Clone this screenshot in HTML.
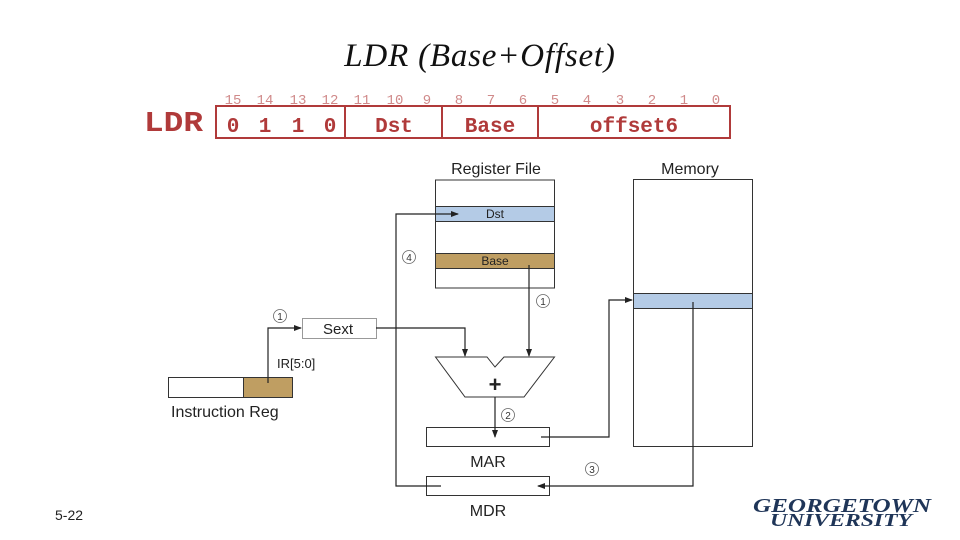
<!DOCTYPE html>
<html><head><meta charset="utf-8"><style>
html,body{margin:0;padding:0;background:#fff}
svg{display:block}
</style></head><body>
<svg width="960" height="540" viewBox="0 0 960 540" xmlns="http://www.w3.org/2000/svg">
<defs>
<marker id="ah" markerWidth="8" markerHeight="8" refX="7" refY="4" orient="auto" markerUnits="userSpaceOnUse">
<path d="M0,1 L8,4 L0,7 Z" fill="#222"/></marker>
</defs>
<text x="480" y="66" text-anchor="middle" font-family="Liberation Serif, serif" font-style="italic" font-size="33" letter-spacing="0.8" fill="#111">LDR (Base+Offset)</text>

<g font-family="Liberation Mono, monospace" fill="#b03a3a">
<text x="144" y="131" font-size="29" font-weight="bold" textLength="59" lengthAdjust="spacingAndGlyphs">LDR</text>
<g font-size="14" fill="#d08a8a" text-anchor="middle" font-weight="normal">
<text x="233" y="104">15</text><text x="265" y="104">14</text><text x="298" y="104">13</text><text x="330" y="104">12</text>
<text x="362" y="104">11</text><text x="395" y="104">10</text><text x="427" y="104">9</text><text x="459" y="104">8</text>
<text x="491" y="104">7</text><text x="523" y="104">6</text><text x="555" y="104">5</text><text x="587" y="104">4</text>
<text x="620" y="104">3</text><text x="652" y="104">2</text><text x="684" y="104">1</text><text x="716" y="104">0</text>
</g>
<g font-size="21" font-weight="bold" text-anchor="middle">
<text x="233" y="132">0</text><text x="265" y="132">1</text><text x="298" y="132">1</text><text x="330" y="132">0</text>
<text x="394" y="132">Dst</text><text x="490" y="132">Base</text><text x="634" y="132">offset6</text>
</g>
</g>
<rect x="216" y="106" width="514" height="32" fill="none" stroke="#b03a3a" stroke-width="2"/>
<line x1="345" y1="106" x2="345" y2="138" stroke="#b03a3a" stroke-width="2"/>
<line x1="442" y1="106" x2="442" y2="138" stroke="#b03a3a" stroke-width="2"/>
<line x1="538" y1="106" x2="538" y2="138" stroke="#b03a3a" stroke-width="2"/>

<g font-family="Liberation Sans, sans-serif" fill="#222">
<text x="496" y="174" text-anchor="middle" font-size="16">Register File</text>
<rect x="435.5" y="180" width="119" height="108" fill="#fff" stroke="#333"/>
<rect x="435.5" y="206.5" width="119" height="15" fill="#b4cbe6" stroke="#333"/>
<text x="495" y="218" text-anchor="middle" font-size="12">Dst</text>
<rect x="435.5" y="253.5" width="119" height="15" fill="#bf9e62" stroke="#333"/>
<text x="495" y="265" text-anchor="middle" font-size="12">Base</text>

<text x="690" y="174" text-anchor="middle" font-size="16">Memory</text>
<rect x="633.5" y="179.5" width="119" height="267" fill="#fff" stroke="#333"/>
<rect x="633.5" y="293.5" width="119" height="15" fill="#b4cbe6" stroke="#333"/>

<rect x="302.5" y="318.5" width="74" height="20" fill="#fff" stroke="#999"/>
<text x="338" y="334" text-anchor="middle" font-size="15">Sext</text>

<rect x="168.5" y="377.5" width="75" height="20" fill="#fff" stroke="#333"/>
<rect x="243.5" y="377.5" width="49" height="20" fill="#bf9e62" stroke="#333"/>
<text x="171" y="417" font-size="16">Instruction Reg</text>
<text x="277" y="368" font-size="13">IR[5:0]</text>

<path d="M435.5,357 L487,357 L495,367 L504,357 L554.5,357 L524,397 L465,397 Z" fill="#fff" stroke="#333"/>
<text x="495" y="392" text-anchor="middle" font-size="22" font-weight="bold">+</text>

<rect x="426.5" y="427.5" width="123" height="19" fill="#fff" stroke="#333"/>
<text x="488" y="467" text-anchor="middle" font-size="16">MAR</text>
<rect x="426.5" y="476.5" width="123" height="19" fill="#fff" stroke="#333"/>
<text x="488" y="516" text-anchor="middle" font-size="16">MDR</text>

<g fill="none" stroke="#222" stroke-width="1.2">
<polyline points="268,383 268,328 301,328" marker-end="url(#ah)"/>
<polyline points="376,328 465,328 465,356" marker-end="url(#ah)"/>
<polyline points="529,265 529,356" marker-end="url(#ah)"/>
<polyline points="495,397 495,437" marker-end="url(#ah)"/>
<polyline points="541,437 609,437 609,300 632,300" marker-end="url(#ah)"/>
<polyline points="693,302 693,486 538,486" marker-end="url(#ah)"/>
<polyline points="441,486 396,486 396,214 458,214" marker-end="url(#ah)"/>
</g>

<g font-size="10" text-anchor="middle" fill="#333">
<circle cx="409" cy="257" r="6.5" fill="none" stroke="#666" stroke-width="0.8"/><text x="409" y="261">4</text>
<circle cx="543" cy="301" r="6.5" fill="none" stroke="#666" stroke-width="0.8"/><text x="543" y="305">1</text>
<circle cx="280" cy="316" r="6.5" fill="none" stroke="#666" stroke-width="0.8"/><text x="280" y="320">1</text>
<circle cx="508" cy="415" r="6.5" fill="none" stroke="#666" stroke-width="0.8"/><text x="508" y="419">2</text>
<circle cx="592" cy="469" r="6.5" fill="none" stroke="#666" stroke-width="0.8"/><text x="592" y="473">3</text>
</g>
</g>

<text x="55" y="520" font-family="Liberation Sans, sans-serif" font-size="14" fill="#222">5-22</text>
<g font-family="Liberation Serif, serif" font-style="italic" font-weight="bold" fill="#1f3558">
<text x="753" y="512" font-size="20" textLength="178" lengthAdjust="spacingAndGlyphs">GEORGETOWN</text>
<text x="770" y="526" font-size="18" textLength="142" lengthAdjust="spacingAndGlyphs">UNIVERSITY</text>
</g>
</svg>
</body></html>
